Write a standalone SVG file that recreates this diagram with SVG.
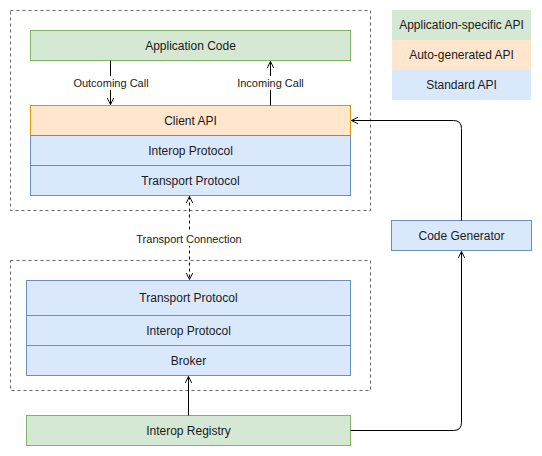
<svg xmlns="http://www.w3.org/2000/svg" width="542" height="456" viewBox="0 0 542 456">
<style>
text{font-family:"Liberation Sans",Arial,sans-serif;font-size:12px;fill:#1a1a1a;text-anchor:middle;dominant-baseline:central}
.lbl{font-size:11px}
.g{fill:#d5e8d4;stroke:#82b366}
.o{fill:#ffe6cc;stroke:#d79b00}
.b{fill:#dae8fc;stroke:#6c8ebf}
.lg{stroke:none}
.cont{fill:none;stroke:#666;stroke-dasharray:3 3}
.c{fill:none;stroke:#000;stroke-width:1}
.d{stroke-dasharray:3 3}
</style>
<defs>
<marker id="ah" viewBox="0 0 10 10" refX="9" refY="5" markerWidth="8" markerHeight="8" orient="auto-start-reverse" markerUnits="userSpaceOnUse">
<path d="M1,1 L9,5 L1,9" fill="none" stroke="#000" stroke-width="1.2"/>
</marker>
</defs>
<g id="container-client"><rect class="cont" x="10.5" y="10.5" width="360" height="200"/></g>
<g id="container-broker"><rect class="cont" x="10.5" y="260.5" width="360" height="130"/></g>
<g id="legend">
<rect class="g lg" x="392" y="10" width="139" height="30"/><text x="461.5" y="25">Application-specific API</text>
<rect class="o lg" x="392" y="40" width="139" height="30"/><text x="461.5" y="55">Auto-generated API</text>
<rect class="b lg" x="392" y="70" width="139" height="30"/><text x="461.5" y="85">Standard API</text>
</g>
<g id="app-code"><rect class="g" x="30.5" y="30.5" width="320" height="30"/><text x="190.5" y="45.5">Application Code</text></g>
<g id="client-api"><rect class="o" x="30.5" y="105.5" width="320" height="30"/><text x="190.5" y="120.5">Client API</text></g>
<g id="client-interop"><rect class="b" x="30.5" y="135.5" width="320" height="30"/><text x="190.5" y="150.5">Interop Protocol</text></g>
<g id="client-transport"><rect class="b" x="30.5" y="165.5" width="320" height="30"/><text x="190.5" y="180.5">Transport Protocol</text></g>
<g id="broker-transport"><rect class="b" x="26.5" y="280.5" width="324" height="35"/><text x="188.5" y="298">Transport Protocol</text></g>
<g id="broker-interop"><rect class="b" x="26.5" y="315.5" width="324" height="30"/><text x="188.5" y="330.5">Interop Protocol</text></g>
<g id="broker"><rect class="b" x="26.5" y="345.5" width="324" height="30"/><text x="188.5" y="360.5">Broker</text></g>
<g id="interop-registry"><rect class="g" x="26.5" y="415.5" width="324" height="30"/><text x="188.5" y="430.5">Interop Registry</text></g>
<g id="code-generator"><rect class="b" x="391.5" y="220.5" width="140" height="30"/><text x="461.5" y="235.5">Code Generator</text></g>
<g id="connectors">
<path class="c" d="M110.5,60.5 V104.5" marker-end="url(#ah)"/>
<path class="c" d="M270.5,105.5 V61.5" marker-end="url(#ah)"/>
<path class="c d" d="M189.5,196.5 V279.5" marker-start="url(#ah)" marker-end="url(#ah)"/>
<path class="c" d="M188.5,415.5 V376.5" marker-end="url(#ah)"/>
<path class="c" d="M461.5,220.5 V128.5 Q461.5,120.5 453.5,120.5 H351.5" marker-end="url(#ah)"/>
<path class="c" d="M350.5,430.5 H453.5 Q461.5,430.5 461.5,422.5 V251.5" marker-end="url(#ah)"/>
<rect x="70" y="76" width="82" height="14" fill="#fff"/>
<text class="lbl" x="111" y="83">Outcoming Call</text>
<rect x="234" y="76" width="72" height="14" fill="#fff"/>
<text class="lbl" x="270.5" y="83">Incoming Call</text>
<rect x="134" y="232" width="110" height="14" fill="#fff"/>
<text class="lbl" x="189" y="239">Transport Connection</text>
</g>
</svg>
